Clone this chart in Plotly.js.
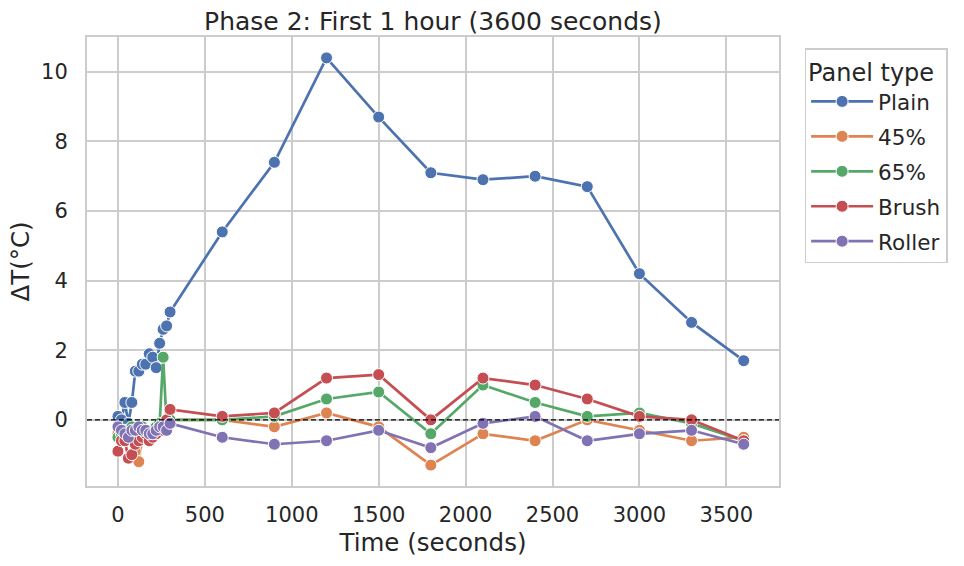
<!DOCTYPE html>
<html>
<head>
<meta charset="utf-8">
<script src="https://cdn.plot.ly/plotly-3.0.1.min.js"></script>
<style>
  html, body { margin: 0; padding: 0; background: #fff; }
  #chart { width: 964px; height: 566px; }
</style>
</head>
<body>
<div id="chart"></div>
<script>
// time points in seconds
const time = [0, 20, 40, 60, 80, 100, 120, 140, 160, 180, 200, 220, 240, 260, 280, 300,
  600, 900, 1200, 1500, 1800, 2100, 2400, 2700, 3000, 3300, 3600];

// delta T per panel type
const plain = [0.1, 0.0, 0.5, -0.1, 0.5, 1.4, 1.4, 1.6, 1.6, 1.9, 1.8, 1.5, 2.2, 2.6, 2.7, 3.1,
  5.4, 7.4, 10.4, 8.7, 7.1, 6.9, 7.0, 6.7, 4.2, 2.8, 1.7];
const pct45 = [-0.4, -0.6, -0.5, -0.3, -0.6, -0.9, -1.2, -0.5, -0.4, -0.5, -0.4, -0.3, -0.2, -0.1, 0.0, 0.0,
  0.0, -0.2, 0.2, -0.2, -1.3, -0.4, -0.6, 0.0, -0.3, -0.6, -0.5];
const pct65 = [-0.5, -0.4, -0.3, -0.3, -0.2, -0.4, -0.3, -0.2, -0.3, -0.4, -0.3, -0.2, -0.1, 1.8, -0.1, 0.0,
  0.0, 0.1, 0.6, 0.8, -0.4, 1.0, 0.5, 0.1, 0.2, -0.1, -0.6];
const brush = [-0.9, -0.6, -0.6, -1.1, -1.0, -0.7, -0.6, -0.5, -0.4, -0.6, -0.5, -0.4, -0.2, -0.3, 0.0, 0.3,
  0.1, 0.2, 1.2, 1.3, 0.0, 1.2, 1.0, 0.6, 0.1, 0.0, -0.6];
const roller = [-0.2, -0.3, -0.4, -0.5, -0.3, -0.3, -0.2, -0.3, -0.3, -0.4, -0.4, -0.3, -0.2, -0.2, -0.3, -0.1,
  -0.5, -0.7, -0.6, -0.3, -0.8, -0.1, 0.1, -0.6, -0.4, -0.3, -0.7];

const seriesNames = ["Plain", "45%", "65%", "Brush", "Roller"];
const seriesValues = [plain, pct45, pct65, brush, roller];
const colors = ["#4c72b0", "#dd8452", "#55a868", "#c44e52", "#8172b3"];

const xTicks = [0, 500, 1000, 1500, 2000, 2500, 3000, 3500];
const yTicks = [0, 2, 4, 6, 8, 10];

const FONT = "DejaVu Sans, sans-serif";
const TXT = "#262626";

const traces = seriesValues.map((vals, i) => ({
  x: time,
  y: vals,
  type: "scatter",
  mode: "lines+markers",
  name: seriesNames[i],
  legendgroup: "g" + i, // one group per trace so tracegroupgap spaces the rows
  line: { color: colors[i], width: 2.7 },
  marker: { color: colors[i], size: 12, line: { color: "#ffffff", width: 1 } },
}));

const axisCommon = {
  showline: true,
  mirror: true,
  linecolor: "#cccccc",
  linewidth: 2,
  showgrid: true,
  gridcolor: "#cccccc",
  gridwidth: 2,
  zeroline: false,
  ticks: "outside",
  tickcolor: "rgba(0,0,0,0)",
  tickfont: { family: FONT, size: 21, color: TXT },
};

const layout = {
  width: 964,
  height: 566,
  margin: { l: 87, r: 185, t: 37, b: 80 },
  paper_bgcolor: "#ffffff",
  plot_bgcolor: "#ffffff",
  font: { family: FONT, color: TXT },
  title: {
    text: "Phase 2: First 1 hour (3600 seconds)",
    font: { family: FONT, size: 25, color: TXT },
    x: 0.5,
    xref: "paper",
    y: 0.963,
    yanchor: "middle",
  },
  xaxis: Object.assign({}, axisCommon, {
    range: [-178, 3803],
    tickvals: xTicks,
    ticklen: 9,
    title: { text: "Time (seconds)", font: { family: FONT, size: 24.5, color: TXT }, standoff: 8 },
  }),
  yaxis: Object.assign({}, axisCommon, {
    range: [-1.9, 11.0],
    tickvals: yTicks,
    ticklen: 13,
    title: { text: "ΔT(°C)", font: { family: FONT, size: 24.5, color: TXT }, standoff: 4 },
  }),
  showlegend: true,
  legend: {
    x: 1.037,
    xanchor: "left",
    y: 0.975,
    yanchor: "top",
    bgcolor: "#ffffff",
    bordercolor: "#cccccc",
    borderwidth: 1.5,
    itemwidth: 62,
    tracegroupgap: 4,
    traceorder: "grouped",
    font: { family: FONT, size: 21.5, color: TXT },
    title: { text: "Panel type", font: { family: FONT, size: 24, color: TXT }, side: "top" },
  },
  shapes: [{
    type: "line",
    xref: "paper", x0: 0, x1: 1,
    yref: "y", y0: 0, y1: 0,
    layer: "above",
    line: { color: "#000000", width: 1.2, dash: "5px,3px" },
  }],
};

Plotly.newPlot("chart", traces, layout, { displayModeBar: false, responsive: false });
</script>
</body>
</html>
